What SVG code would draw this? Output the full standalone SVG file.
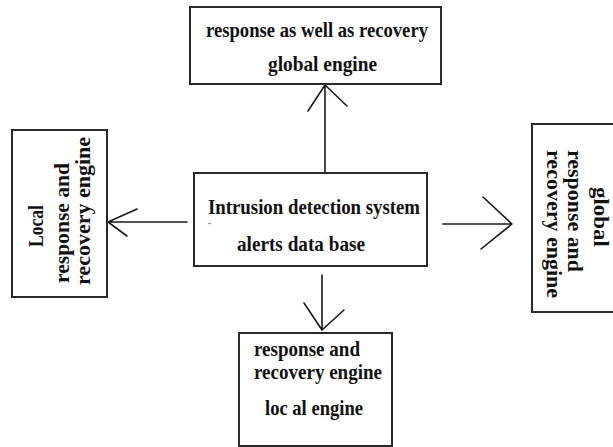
<svg xmlns="http://www.w3.org/2000/svg" width="613" height="447" viewBox="0 0 613 447">
<style>
.box{fill:#fff;stroke:#2a2a2a;stroke-width:2}
.t{font-family:"Liberation Serif","Times New Roman",serif;font-weight:bold;font-size:21px;fill:#111}
.r{font-family:"Liberation Serif","Times New Roman",serif;font-weight:bold;font-size:21px;fill:#111}
.c{fill:none;stroke:#1a1a1a;stroke-width:1.6;stroke-linecap:round;stroke-linejoin:round}
</style>
<rect width="613" height="447" fill="#fff"/>
<g id="global-top">
<rect class="box" x="190" y="7" width="251" height="77"/>
<text class="t" x="206" y="37" textLength="222" lengthAdjust="spacingAndGlyphs">response as well as recovery</text>
<text class="t" x="268" y="71" textLength="109" lengthAdjust="spacingAndGlyphs">global engine</text>
</g>
<g id="ids-db">
<rect class="box" x="194" y="173" width="233" height="93"/>
<text class="t" x="208" y="214" textLength="212" lengthAdjust="spacingAndGlyphs">Intrusion detection system</text>
<rect x="208" y="223" width="3" height="1.2" fill="#999"/>
<text class="t" x="237" y="251" textLength="128" lengthAdjust="spacingAndGlyphs">alerts data base</text>
</g>
<g id="local-left">
<rect class="box" x="12" y="130" width="95" height="167"/>
<text class="r" transform="translate(43,247) rotate(-90)" textLength="42" lengthAdjust="spacingAndGlyphs">Local</text>
<text class="r" transform="translate(69,283) rotate(-90)" textLength="120" lengthAdjust="spacingAndGlyphs">response and</text>
<text class="r" transform="translate(90,285) rotate(-90)" textLength="148" lengthAdjust="spacingAndGlyphs">recovery engine</text>
</g>
<g id="global-right">
<rect class="box" x="532" y="124" width="90" height="188"/>
<text class="r" transform="translate(594,187) rotate(90)" textLength="60" lengthAdjust="spacingAndGlyphs">global</text>
<text class="r" transform="translate(568,150) rotate(90)" textLength="122" lengthAdjust="spacingAndGlyphs">response and</text>
<text class="r" transform="translate(547,150) rotate(90)" textLength="148" lengthAdjust="spacingAndGlyphs">recovery engine</text>
</g>
<g id="local-bottom">
<rect class="box" x="239" y="333" width="153" height="113"/>
<text class="t" x="254" y="356" textLength="106" lengthAdjust="spacingAndGlyphs">response and</text>
<text class="t" x="254" y="379" textLength="128" lengthAdjust="spacingAndGlyphs">recovery engine</text>
<text class="t" x="265" y="415" textLength="98" lengthAdjust="spacingAndGlyphs">loc al engine</text>
</g>
<g id="connectors">
<path class="c" d="M325,173 L325,85 M308,111 L325,85 L347,106"/>
<path class="c" d="M187,222 L108,222 M137,209 L108,222 L127,236"/>
<path class="c" d="M443,224 L512,224 M483,197 L512,224 L481,249"/>
<path class="c" d="M322,275 L322,330 M304,303 L322,330 L344,310"/>
</g>
</svg>
